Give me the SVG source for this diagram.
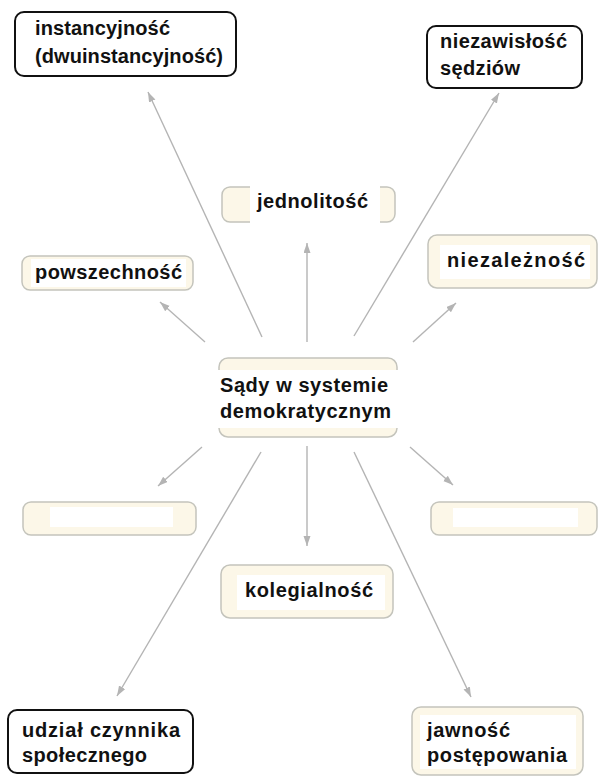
<svg xmlns="http://www.w3.org/2000/svg" width="599" height="778" viewBox="0 0 599 778">
<defs>
<marker id="ah" markerUnits="userSpaceOnUse" markerWidth="11" markerHeight="8" refX="10" refY="3.5" orient="auto">
<path d="M0,0 L10,3.5 L0,7 z" fill="#b4b4b4"/>
</marker>
<style>
.dark{fill:#ffffff;stroke:#111111;stroke-width:2}
.soft{fill:#fcf7e8;stroke:#c4c4bc;stroke-width:1.5}
.in{fill:#ffffff}
.t{font-family:"Liberation Sans",Arial,sans-serif;font-weight:bold;font-size:20px;fill:#111111}
.c{fill:none;stroke:#b4b4b4;stroke-width:1.4;marker-end:url(#ah)}
</style>
</defs>
<rect width="599" height="778" fill="#ffffff"/>
<g id="connectors">
<line class="c" x1="262" y1="337" x2="148" y2="92"/>
<line class="c" x1="354" y1="336" x2="499" y2="93"/>
<line class="c" x1="307" y1="342" x2="307" y2="243"/>
<line class="c" x1="205" y1="342" x2="160" y2="302"/>
<line class="c" x1="413" y1="342" x2="456" y2="303"/>
<line class="c" x1="202" y1="447" x2="158" y2="486"/>
<line class="c" x1="410" y1="447" x2="453" y2="485"/>
<line class="c" x1="307" y1="446" x2="307" y2="546"/>
<line class="c" x1="261" y1="452" x2="117" y2="696"/>
<line class="c" x1="354" y1="452" x2="471" y2="697"/>
</g>
<g id="node-instancyjnosc">
<rect class="dark" x="15" y="12" width="221" height="64" rx="9"/>
<text class="t" x="35" y="35" textLength="135" lengthAdjust="spacing">instancyjność</text>
<text class="t" x="35" y="63" textLength="188" lengthAdjust="spacing">(dwuinstancyjność)</text>
</g>
<g id="node-niezawislosc">
<rect class="dark" x="427" y="26" width="155" height="62" rx="9"/>
<text class="t" x="440" y="48" textLength="127" lengthAdjust="spacing">niezawisłość</text>
<text class="t" x="440" y="75" textLength="80" lengthAdjust="spacing">sędziów</text>
</g>
<g id="node-jednolitosc">
<rect class="soft" x="222" y="187" width="173" height="35" rx="8"/>
<rect class="in" x="250" y="185" width="130" height="39"/>
<text class="t" x="257" y="208" textLength="111" lengthAdjust="spacing">jednolitość</text>
</g>
<g id="node-powszechnosc">
<rect class="soft" x="22" y="256" width="171" height="34" rx="8"/>
<rect class="in" x="31" y="259" width="155" height="28"/>
<text class="t" x="35" y="279" textLength="147" lengthAdjust="spacing">powszechność</text>
</g>
<g id="node-niezaleznosc">
<rect class="soft" x="428" y="235" width="169" height="53" rx="9"/>
<rect class="in" x="440" y="245" width="150" height="34"/>
<text class="t" x="447" y="267" textLength="138" lengthAdjust="spacing">niezależność</text>
</g>
<g id="node-sady">
<rect class="soft" x="219" y="358" width="178" height="79" rx="9"/>
<rect class="in" x="218" y="370" width="180" height="58"/>
<text class="t" x="220" y="392" textLength="168" lengthAdjust="spacing">Sądy w systemie</text>
<text class="t" x="220" y="418" textLength="171" lengthAdjust="spacing">demokratycznym</text>
</g>
<g id="node-empty-left">
<rect class="soft" x="23" y="502" width="173" height="33" rx="8"/>
<rect class="in" x="50" y="507" width="123" height="20"/>
</g>
<g id="node-empty-right">
<rect class="soft" x="431" y="502" width="166" height="33" rx="8"/>
<rect class="in" x="453" y="508" width="125" height="19"/>
</g>
<g id="node-kolegialnosc">
<rect class="soft" x="221" y="565" width="172" height="53" rx="9"/>
<rect class="in" x="237" y="575" width="148" height="35"/>
<text class="t" x="245" y="597" textLength="128" lengthAdjust="spacing">kolegialność</text>
</g>
<g id="node-udzial">
<rect class="dark" x="8" y="710" width="185" height="63" rx="9"/>
<text class="t" x="22" y="737" textLength="158" lengthAdjust="spacing">udział czynnika</text>
<text class="t" x="22" y="762" textLength="125" lengthAdjust="spacing">społecznego</text>
</g>
<g id="node-jawnosc">
<rect class="soft" x="412" y="707" width="171" height="68" rx="9"/>
<rect class="in" x="420" y="715" width="156" height="54"/>
<text class="t" x="427" y="737" textLength="83" lengthAdjust="spacing">jawność</text>
<text class="t" x="427" y="762" textLength="140" lengthAdjust="spacing">postępowania</text>
</g>
</svg>
